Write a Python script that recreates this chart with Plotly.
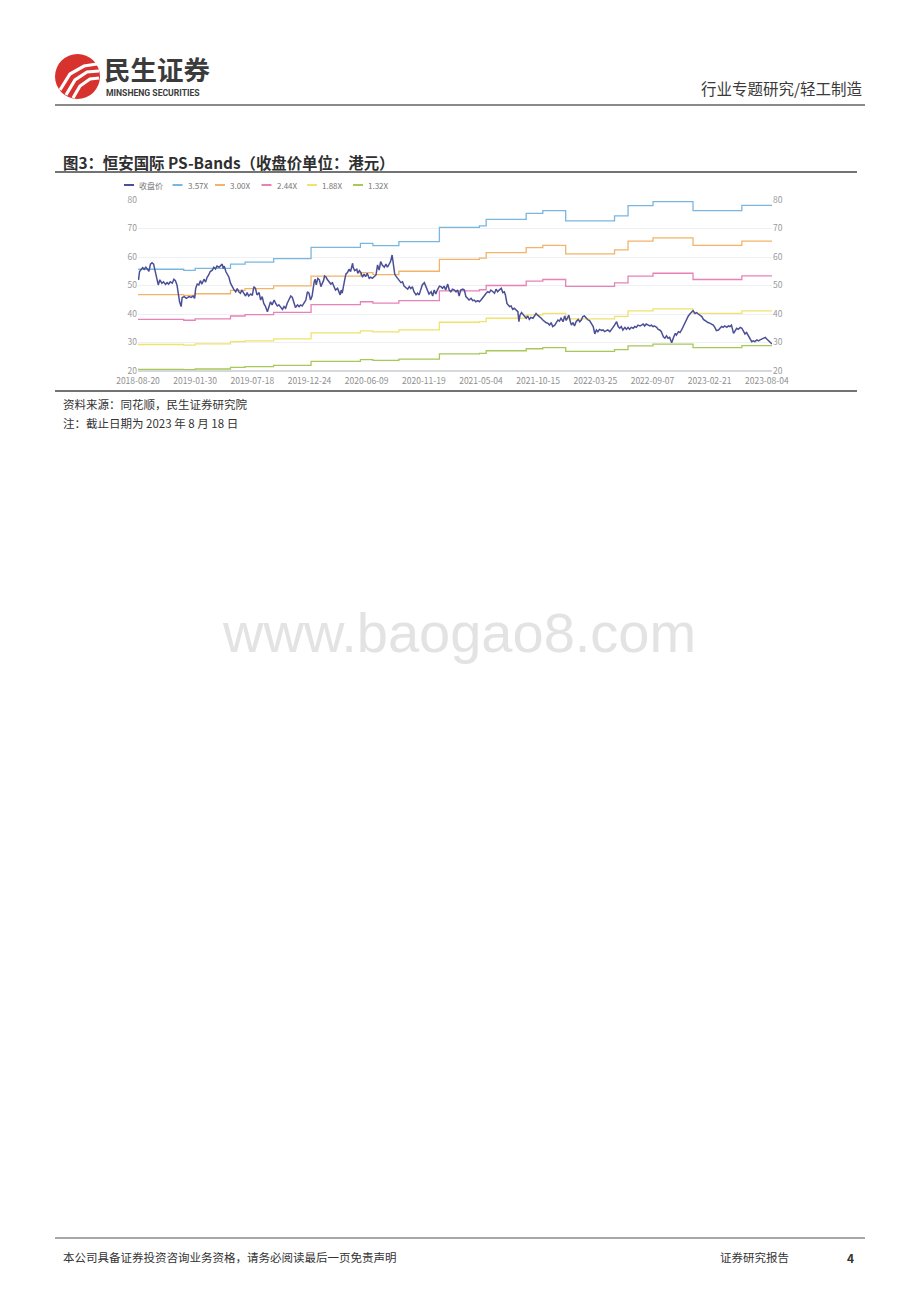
import plotly.graph_objects as go

W, H = 920, 1302


def px(x):
    return x / W


def py(y):
    return 1 - y / H


# ---------------- data ----------------
tick_idx = [0, 110, 220, 330, 440, 550, 660, 770, 880, 990, 1100, 1210]
tick_labels = ["2018-08-20", "2019-01-30", "2019-07-18", "2019-12-24", "2020-06-09",
               "2020-11-19", "2021-05-04", "2021-10-15", "2022-03-25", "2022-09-07",
               "2023-02-21", "2023-08-04"]
y_ticks = [20, 30, 40, 50, 60, 70, 80]

series_names = ["收盘价", "3.57X", "3.00X", "2.44X", "1.88X", "1.32X"]

price_idx = [0, 1, 3, 6, 9, 12, 15, 19, 21, 24, 27, 30, 33, 37, 39, 42, 46, 49, 53, 56, 59, 62, 66, 69, 72,
             75, 77, 80, 83, 85, 89, 93, 98, 102, 106, 109, 111, 114, 117, 120, 123, 127, 130, 133, 136,
             139, 143, 146, 149, 152, 156, 159, 162, 164, 166, 169, 172, 175, 178, 181, 184, 188, 191,
             194, 197, 200, 204, 207, 210, 213, 217, 220, 223, 226, 229, 233, 236, 239, 242, 245, 249,
             252, 255, 258, 262, 265, 268, 271, 274, 278, 281, 284, 287, 290, 294, 297, 300, 303, 307,
             310, 313, 316, 319, 323, 326, 329, 332, 335, 339, 341, 343, 346, 349, 352, 354, 357, 359,
             362, 364, 368, 371, 374, 377, 380, 384, 387, 389, 391, 393, 397, 400, 403, 406, 409, 413,
             414, 417, 421, 423, 426, 429, 432, 435, 438, 441, 445, 448, 451, 454, 458, 461, 464, 467,
             470, 474, 477, 480, 483, 486, 489, 492, 494, 497, 499, 503, 506, 509, 512, 515, 519, 522,
             525, 528, 531, 535, 538, 541, 544, 547, 551, 554, 557, 560, 564, 567, 570, 573, 576, 580,
             583, 586, 589, 592, 596, 599, 602, 605, 609, 612, 615, 618, 621, 625, 628, 631, 634, 637,
             641, 644, 647, 650, 654, 657, 660, 663, 666, 670, 673, 676, 679, 683, 686, 689, 692, 695,
             699, 702, 705, 707, 710, 712, 715, 718, 721, 724, 728, 731, 733, 735, 738, 740, 744, 747,
             750, 753, 756, 760, 763, 766, 769, 773, 776, 779, 782, 785, 789, 792, 795, 798, 802, 805,
             808, 811, 814, 818, 821, 824, 827, 829, 832, 834, 837, 840, 843, 847, 850, 853, 856, 859,
             863, 866, 869, 872, 876, 879, 882, 885, 888, 892, 895, 898, 901, 904, 908, 911, 914, 917,
             921, 924, 927, 930, 933, 937, 940, 943, 946, 949, 953, 956, 959, 962, 966, 969, 972, 975,
             978, 982, 985, 988, 991, 994, 998, 1001, 1004, 1007, 1011, 1014, 1017, 1020, 1023, 1027,
             1029, 1031, 1034, 1036, 1040, 1043, 1046, 1049, 1052, 1056, 1059, 1062, 1065, 1068, 1072,
             1075, 1078, 1081, 1085, 1088, 1091, 1094, 1097, 1101, 1104, 1107, 1110, 1113, 1117, 1120,
             1123, 1126, 1129, 1133, 1136, 1139, 1142, 1146, 1149, 1152, 1155, 1159, 1162, 1165, 1168,
             1171, 1175, 1178, 1181, 1184, 1187, 1191, 1194, 1197, 1200, 1204, 1207, 1210, 1213, 1216,
             1220]
price_val = [52.9, 52.0, 54.9, 55.7, 56.3, 55.7, 56.4, 55.5, 55.0, 57.5, 58.0, 57.5, 55.4, 52.0, 50.2, 52.0,
             50.8, 51.3, 50.4, 51.0, 50.5, 51.3, 50.8, 52.2, 51.7, 50.2, 47.3, 44.3, 42.6, 45.8, 46.1,
             45.5, 46.1, 45.8, 46.3, 45.5, 49.0, 50.5, 50.2, 51.7, 50.5, 52.2, 51.2, 52.9, 53.7, 54.9,
             55.4, 56.4, 55.8, 56.8, 56.4, 56.8, 57.5, 56.0, 56.8, 54.9, 53.7, 52.9, 50.8, 49.6, 48.7,
             47.8, 48.9, 47.8, 47.3, 48.4, 47.3, 46.3, 47.5, 46.3, 47.0, 46.5, 49.6, 49.0, 46.7, 47.5,
             44.9, 46.1, 43.7, 42.8, 40.8, 42.6, 44.3, 43.2, 44.9, 43.7, 42.8, 43.2, 42.3, 41.6, 42.6,
             42.0, 43.7, 44.9, 46.3, 45.8, 43.7, 42.3, 43.2, 42.6, 43.2, 42.8, 43.7, 44.9, 47.8, 47.3,
             44.9, 46.3, 51.3, 52.2, 50.2, 52.5, 52.0, 49.6, 50.5, 51.7, 53.3, 52.9, 52.2, 51.3, 50.5,
             51.0, 49.8, 48.4, 49.0, 47.8, 46.7, 48.4, 47.3, 51.3, 54.0, 54.5, 55.7, 54.9, 57.8, 56.4,
             55.2, 55.7, 54.3, 55.2, 54.5, 52.9, 54.0, 53.1, 54.3, 52.5, 52.9, 52.5, 52.9, 53.7, 57.2,
             55.4, 58.4, 57.2, 56.4, 57.5, 56.4, 57.5, 58.4, 60.7, 56.8, 54.0, 53.1, 52.5, 51.7, 51.0,
             51.3, 49.8, 49.4, 48.7, 49.6, 48.9, 49.6, 47.8, 46.7, 47.3, 46.7, 48.4, 50.2, 51.0, 49.6,
             47.8, 47.0, 47.8, 46.3, 48.4, 47.0, 48.4, 49.8,
             49.6, 49.0, 49.8, 48.4, 50.5, 48.4, 47.8, 48.7, 48.4, 47.8, 48.4, 46.3, 48.4, 48.7, 48.4,
             46.1, 45.5, 44.9, 45.5, 44.7, 44.9, 44.3, 44.7, 44.3, 44.9, 45.8, 46.3, 47.3, 47.8, 47.5,
             48.4, 47.8, 47.3, 48.7, 47.8, 48.4, 49.0, 47.5, 47.8, 46.7, 43.7, 43.2, 42.6, 42.8, 41.6,
             42.0, 41.4, 40.8, 37.3, 39.6, 40.5, 40.0, 39.1, 38.5, 39.3, 38.1, 38.8, 38.5, 39.3, 40.2,
             39.6, 39.1, 38.5, 37.9, 37.3, 37.0, 36.7, 36.1, 37.0, 35.6, 36.1, 37.3, 37.9, 37.5, 38.5,
             37.3, 39.3, 37.7, 39.1, 39.6, 37.3, 36.1, 37.0, 35.8, 37.3, 38.1, 37.3, 37.9, 39.1, 39.3,
             38.5, 37.9, 37.7, 36.7, 35.6, 33.0, 34.4, 33.8, 34.6, 34.2, 34.4, 33.8, 34.2, 34.4, 33.8,
             34.4, 35.3, 36.1, 37.3, 35.6, 35.0, 35.6, 34.4, 35.3, 34.6, 35.3, 34.6, 35.3, 35.0, 35.6,
             35.3, 36.1, 35.8, 36.1, 36.5, 35.8, 36.5, 36.1, 35.8, 36.1, 35.6, 35.8, 35.3, 34.6, 34.4,
             33.8, 32.0, 31.5, 32.3, 31.5, 31.8, 29.9, 31.5, 32.0, 33.2, 32.6, 33.8, 33.5, 34.4, 35.6,
             36.7, 37.9, 39.3, 40.0, 40.8, 41.2, 40.2, 40.5, 40.0, 39.6, 39.1, 38.1, 37.7, 37.3, 37.0,
             36.7, 36.5, 36.1, 35.3, 34.2, 34.4, 35.0, 35.6, 35.3, 35.8, 35.3, 35.8, 35.6, 36.1, 33.2,
             34.4, 35.0, 34.6, 35.3, 35.0, 33.8, 33.0, 33.5, 32.0, 30.9, 30.3, 30.6, 30.3, 30.9, 30.6,
             30.9, 31.2, 31.5, 31.8, 31.2, 30.6, 30.3, 29.5]

band_idx = [0, 88, 110, 178, 206, 261, 333, 428, 452, 502, 580, 657, 670, 747, 779, 823, 917, 943, 991,
            1068, 1162, 1220]
band_357 = [55.7, 55.3, 56.0, 57.5, 58.2, 59.4, 63.4, 64.8, 64.0, 65.4, 70.4, 70.9, 73.2, 75.3, 76.3,
            72.7, 74.4, 78.0, 79.4, 76.3, 78.1, 78.1]
band_300 = [46.8, 46.5, 47.1, 48.3, 48.9, 49.9, 53.3, 54.5, 53.8, 55.0, 59.2, 59.6, 61.5, 63.3, 64.1,
            61.1, 62.5, 65.6, 66.7, 64.1, 65.6, 65.6]
band_244 = [38.1, 37.8, 38.3, 39.3, 39.8, 40.6, 43.3, 44.3, 43.8, 44.7, 48.1, 48.5, 50.0, 51.5, 52.1,
            49.7, 50.9, 53.3, 54.3, 52.1, 53.4, 53.4]
band_188 = [29.3, 29.1, 29.5, 30.3, 30.6, 31.3, 33.4, 34.1, 33.7, 34.4, 37.1, 37.3, 38.5, 39.7, 40.2,
            38.3, 39.2, 41.1, 41.8, 40.2, 41.1, 41.1]
band_132 = [20.6, 20.5, 20.7, 21.3, 21.5, 22.0, 23.4, 24.0, 23.7, 24.2, 26.0, 26.2, 27.1, 27.8, 28.2,
            26.9, 27.5, 28.8, 29.4, 28.2, 28.9, 28.9]

# ---------------- styles ----------------
colors = ["#4b4f96", "#79b7e0", "#f1b468", "#e781b8", "#f0e26a", "#a8c85a"]
CJK = "Noto Sans CJK SC"

fig = go.Figure()
bands = [band_357, band_300, band_244, band_188, band_132]
for i, vals in enumerate(bands):
    fig.add_trace(go.Scatter(
        x=band_idx, y=vals, mode="lines", name=series_names[i + 1],
        line=dict(color=colors[i + 1], width=1.3, shape="hv"),
        yaxis="y2" if i == 4 else "y", showlegend=False, hoverinfo="skip"))
fig.add_trace(go.Scatter(
    x=price_idx, y=price_val, mode="lines", name=series_names[0],
    line=dict(color=colors[0], width=1.5), showlegend=False))

plot_l, plot_r, plot_t, plot_b = 138, 772, 200, 371

axis_common = dict(range=[20, 80], tickvals=y_ticks, tickfont=dict(family=CJK, size=8.5, color="#9a9a9a"),
                   zeroline=False, ticks="", fixedrange=True, automargin=False)

fig.update_layout(
    width=W, height=H, autosize=False,
    margin=dict(l=0, r=0, t=0, b=0, pad=0, autoexpand=False),
    paper_bgcolor="white", plot_bgcolor="white",
    showlegend=False,
    xaxis=dict(domain=[px(plot_l), px(plot_r)], range=[0, 1220], tickvals=tick_idx, ticktext=tick_labels,
               tickfont=dict(family=CJK, size=8.5, color="#8f8f8f"), showgrid=False, zeroline=False,
               showline=False, ticks="", automargin=False, ticklabelstandoff=3, fixedrange=True),
    yaxis=dict(domain=[py(plot_b), py(plot_t)], showgrid=True, gridcolor="#eef0f4", gridwidth=1,
               side="left", **axis_common),
    yaxis2=dict(overlaying="y", side="right", showgrid=False, **axis_common),
)

shapes = []
annotations = []

# axis baseline
shapes.append(dict(type="line", xref="paper", yref="paper", x0=px(plot_l), x1=px(plot_r),
                   y0=py(plot_b), y1=py(plot_b), line=dict(color="#c9cbd0", width=1.5)))

# legend (manual)
leg_line_x = [124, 172.5, 215, 261.5, 307, 353]
for i, name in enumerate(series_names):
    x0 = leg_line_x[i]
    shapes.append(dict(type="line", xref="paper", yref="paper", x0=px(x0), x1=px(x0 + 10),
                       y0=py(185), y1=py(185), line=dict(color=colors[i], width=2)))
    annotations.append(dict(x=px(x0 + 13), y=py(185), xref="paper", yref="paper", text=name,
                            showarrow=False, xanchor="left", yanchor="middle",
                            font=dict(family=CJK, size=8, color="#777777")))

# header
shapes.append(dict(type="line", xref="paper", yref="paper", x0=px(55), x1=px(865), y0=py(105), y1=py(105),
                   line=dict(color="#8a8a8a", width=2)))
# logo circle
shapes.append(dict(type="circle", xref="paper", yref="paper", x0=px(55), x1=px(100), y0=py(99), y1=py(54),
                   fillcolor="#d8322e", line=dict(width=0)))


def path_px(points):
    s = "M %f %f" % (px(points[0][0]), py(points[0][1]))
    for a, b in points[1:]:
        s += " L %f %f" % (px(a), py(b))
    return s


for pts in ([(60, 90), (70, 74), (84, 66), (97, 64)],
            [(66, 95), (75, 80), (87, 72), (99, 71)],
            [(73, 98), (80, 86), (90, 79), (99, 78)]):
    shapes.append(dict(type="path", xref="paper", yref="paper", path=path_px(pts),
                       line=dict(color="white", width=3.2)))

annotations += [
    dict(x=px(102), y=py(68.5), text="<b>民生证券</b>", font=dict(family=CJK, size=26.5, color="#3b3b3b"),
         xanchor="left", yanchor="middle"),
    dict(x=px(104), y=py(92.5), text="<b>MINSHENG SECURITIES</b>",
         font=dict(family="Roboto", size=8.6, color="#3b3b3b"), xanchor="left", yanchor="middle"),
    dict(x=px(865), y=py(88), text="行业专题研究/轻工制造", font=dict(family=CJK, size=15.5, color="#3a3a3a"),
         xanchor="right", yanchor="middle"),
    # title
    dict(x=px(61), y=py(162), text="<b>图3：恒安国际 PS-Bands（收盘价单位：港元）</b>",
         font=dict(family=CJK, size=15.4, color="#2f2f2f"), xanchor="left", yanchor="middle"),
    # notes
    dict(x=px(61), y=py(404), text="资料来源：同花顺，民生证券研究院", font=dict(family=CJK, size=11.5, color="#333333"),
         xanchor="left", yanchor="middle"),
    dict(x=px(61), y=py(423), text="注：截止日期为 2023 年 8 月 18 日", font=dict(family=CJK, size=11.5, color="#333333"),
         xanchor="left", yanchor="middle"),
    # watermark
    dict(x=px(459), y=py(633), text="www.baogao8.com", font=dict(family="Liberation Sans", size=56, color="#e3e3e3"),
         xanchor="center", yanchor="middle"),
    # footer
    dict(x=px(61), y=py(1257), text="本公司具备证券投资咨询业务资格，请务必阅读最后一页免责声明",
         font=dict(family=CJK, size=11.5, color="#333333"), xanchor="left", yanchor="middle"),
    dict(x=px(791), y=py(1257), text="证券研究报告", font=dict(family=CJK, size=11.5, color="#333333"),
         xanchor="right", yanchor="middle"),
    dict(x=px(856), y=py(1257), text="<b>4</b>", font=dict(family=CJK, size=12, color="#333333"),
         xanchor="right", yanchor="middle"),
]
for a in annotations:
    a.setdefault("xref", "paper")
    a.setdefault("yref", "paper")
    a.setdefault("showarrow", False)

# separator lines
shapes.append(dict(type="line", xref="paper", yref="paper", x0=px(55), x1=px(857), y0=py(172), y1=py(172),
                   line=dict(color="#444444", width=1.6)))
shapes.append(dict(type="line", xref="paper", yref="paper", x0=px(55), x1=px(857), y0=py(391), y1=py(391),
                   line=dict(color="#444444", width=1.6)))
shapes.append(dict(type="line", xref="paper", yref="paper", x0=px(55), x1=px(865), y0=py(1238), y1=py(1238),
                   line=dict(color="#8a8a8a", width=1.6)))

fig.update_layout(shapes=shapes, annotations=annotations)
fig.write_html("out.html", config={"displayModeBar": False, "staticPlot": True},
               post_script="document.body.style.margin='0';document.body.style.overflow='hidden';")
